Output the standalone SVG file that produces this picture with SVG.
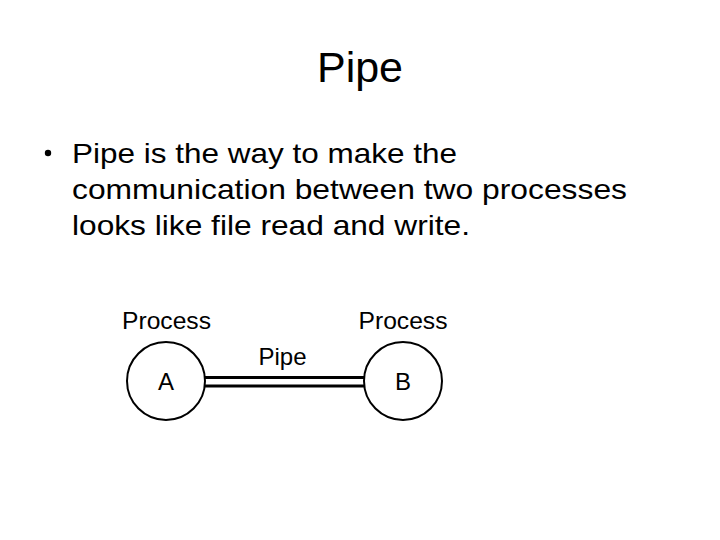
<svg xmlns="http://www.w3.org/2000/svg" width="720" height="540" viewBox="0 0 720 540">
  <style>
    text { font-family: "Liberation Sans", Arial, sans-serif; fill: #000; }
    .title { font-size: 43px; text-anchor: middle; }
    .body { font-size: 28px; }
    .lbl { font-size: 24px; text-anchor: middle; }
    .node { fill: #fff; stroke: #000; stroke-width: 2; }
    .pipe { stroke: #000; stroke-width: 3; fill: none; }
  </style>
  <rect width="720" height="540" fill="#fff"/>
  <text class="title" x="360" y="82">Pipe</text>
  <g id="bullet">
    <circle cx="48" cy="153" r="3.2" fill="#000"/>
    <text class="body" x="72" y="163" textLength="385" lengthAdjust="spacingAndGlyphs">Pipe is the way to make the</text>
    <text class="body" x="72" y="199" textLength="555" lengthAdjust="spacingAndGlyphs">communication between two processes</text>
    <text class="body" x="72" y="235" textLength="398" lengthAdjust="spacingAndGlyphs">looks like file read and write.</text>
  </g>
  <g id="connectors">
    <line class="pipe" x1="204" y1="377.5" x2="366" y2="377.5"/>
    <line class="pipe" x1="204" y1="386" x2="366" y2="386"/>
    <text class="lbl" x="282.5" y="365">Pipe</text>
  </g>
  <g id="nodeA">
    <circle class="node" cx="166" cy="381" r="39"/>
    <text class="lbl" x="166" y="390">A</text>
    <text class="lbl" x="166.5" y="329" textLength="89" lengthAdjust="spacingAndGlyphs">Process</text>
  </g>
  <g id="nodeB">
    <circle class="node" cx="403" cy="381" r="39"/>
    <text class="lbl" x="403" y="390">B</text>
    <text class="lbl" x="403" y="329" textLength="89" lengthAdjust="spacingAndGlyphs">Process</text>
  </g>
</svg>
